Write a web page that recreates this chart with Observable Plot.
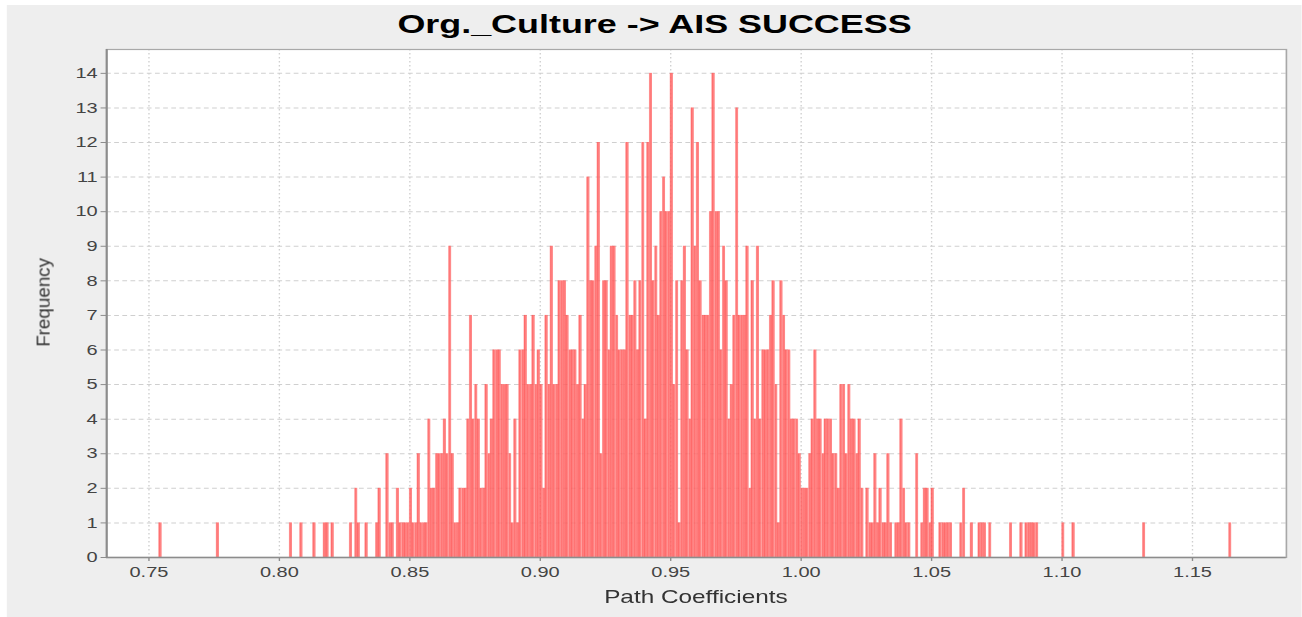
<!DOCTYPE html>
<html><head><meta charset="utf-8">
<script src="https://cdn.jsdelivr.net/npm/d3@7"></script>
<script src="https://cdn.jsdelivr.net/npm/@observablehq/plot@0.6"></script>
<style>
html,body{margin:0;padding:0;background:#fff;}
#stage{position:absolute;left:0;top:0;width:1302px;height:617px;overflow:hidden;background:#fff}
#wrap{position:absolute;left:0;top:0;width:957.35px;height:617px;transform:scaleX(1.36);transform-origin:0 0;}
#bg{position:absolute;left:5.15px;top:5px;right:0;bottom:0;background:#eeeeee}
#title{position:absolute;left:5.15px;right:0;top:11px;text-align:center;font-family:"Liberation Sans",Arial,sans-serif;font-weight:bold;font-size:26.4px;line-height:26.4px;color:#000;white-space:nowrap}
#xlabel{position:absolute;left:0;width:1023.4px;top:589px;text-align:center;font-family:"Liberation Sans",Arial,sans-serif;font-size:17.9px;line-height:17.9px;color:#333;white-space:nowrap}
#chart{position:absolute;left:0;top:0}
#ylabel{position:absolute;left:-56px;width:200px;top:292.6px;text-align:center;font-family:"Liberation Sans",Arial,sans-serif;font-size:18.8px;line-height:18.8px;color:#333;transform:rotate(-90deg);transform-origin:50% 50%;white-space:nowrap}
</style>
</head><body>
<div id="stage">
  <div id="wrap">
    <div id="bg"></div>
    <div id="chart"></div>
    <div id="title"></div>
    <div id="xlabel"></div>
  </div>
  <div id="ylabel"></div>
</div>
<script>
// ---- data ----
const titleText = "Org._Culture -> AIS SUCCESS";
const xLabel = "Path Coefficients";
const yLabel = "Frequency";
const binStart = 0.754;
const binWidth = 0.001;
const counts = [
1,0,0,0,0,0,0,0,0,0, 0,0,0,0,0,0,0,0,0,0,
0,0,1,0,0,0,0,0,0,0, 0,0,0,0,0,0,0,0,0,0,
0,0,0,0,0,0,0,0,0,0, 1,0,0,0,1,0,0,0,0,1,
0,0,0,1,1,0,1,0,0,0, 0,0,0,1,0,2,1,0,0,1,
0,0,0,1,2,0,0,3,1,1, 0,2,1,1,1,1,2,1,1,3,
1,1,1,4,2,2,3,3,3,4, 3,9,3,1,1,2,2,2,4,7,
4,5,4,2,2,5,3,4,6,6, 6,5,5,5,3,1,4,1,6,6,
7,5,5,7,5,6,5,2,7,5, 9,5,5,8,8,8,7,6,6,6,
5,7,4,5,11,8,8,9,12,3, 8,8,6,9,9,7,6,6,6,12,
7,7,8,6,8,12,4,12,14,8, 9,7,10,11,10,10,14,5,8,1,
8,9,6,4,13,9,12,8,7,7, 7,10,14,10,10,6,9,8,4,5,
7,13,7,7,7,9,2,8,4,9, 4,6,6,6,7,8,5,1,8,7,
6,6,4,4,4,3,2,2,2,3, 4,6,4,4,3,4,4,4,3,3,
2,5,5,3,5,4,4,3,4,2, 0,2,1,1,3,1,2,1,1,3,
1,0,1,1,4,2,1,1,0,0, 3,0,1,2,2,1,2,0,0,1,
1,1,1,1,0,0,0,1,2,0, 0,1,0,0,1,1,1,0,1,0,
0,0,0,0,0,0,1,0,0,0, 1,0,1,1,1,1,1,0,0,0,
0,0,0,0,0,0,1,0,0,0, 1,0,0,0,0,0,0,0,0,0,
0,0,0,0,0,0,0,0,0,0, 0,0,0,0,0,0,0,1,0,0,
0,0,0,0,0,0,0,0,0,0, 0,0,0,0,0,0,0,0,0,0,
0,0,0,0,0,0,0,0,0,0, 1
];
const xTicks = [0.75,0.80,0.85,0.90,0.95,1.00,1.05,1.10,1.15];
const yTicks = [0,1,2,3,4,5,6,7,8,9,10,11,12,13,14];
const xDomain = [0.7338, 1.186];
const yDomain = [0, 14.69];

const bins = counts.map((c, i) => ({x0: binStart + i*binWidth, x1: binStart + (i+1)*binWidth, count: c})).filter(d => d.count > 0);

const font = "Liberation Sans, Arial, sans-serif";
const chart = Plot.plot({
  width: 957.35,
  height: 617,
  marginLeft: 77.94,
  marginRight: 11.95,
  marginTop: 49,
  marginBottom: 60,
  style: {background: "transparent", fontFamily: font, overflow: "visible"},
  x: {domain: xDomain},
  y: {domain: yDomain},
  marks: [
    Plot.frame({fill: "#ffffff", stroke: "none"}),
    Plot.gridX(xTicks, {stroke: "#cfcfcf", strokeOpacity: 1, strokeDasharray: "1.5,2.5"}),
    Plot.gridY(yTicks, {stroke: "#cfcfcf", strokeOpacity: 1, strokeDasharray: "3.5,2.5"}),
    Plot.rectY(bins, {x1: "x0", x2: "x1", y: "count", fill: "url(#barGrad)", fillOpacity: 0.85, insetLeft: -0.15, insetRight: -0.15}),
    Plot.frame({stroke: "#a8a8a8", strokeWidth: 1.2}),
    Plot.ruleY([0], {stroke: "#8c8c8c", strokeWidth: 1.5}),
    Plot.ruleX([xDomain[0]], {stroke: "#8c8c8c", strokeWidth: 1.5}),
    Plot.axisX(xTicks, {tickSize: 4, tickPadding: 5, tickFormat: d3.format(".2f"), fontSize: 14.7, fill: "#444", stroke: "#8c8c8c", label: null}),
    Plot.axisY(yTicks, {tickSize: 4, tickPadding: 2.6, tickFormat: d3.format("d"), fontSize: 14.7, fill: "#444", stroke: "#8c8c8c", label: null})
  ]
});

const defs = document.createElementNS("http://www.w3.org/2000/svg", "defs");
defs.innerHTML = '<linearGradient id="barGrad" x1="0" x2="1" y1="0" y2="0">' +
  '<stop offset="0" stop-color="#ff5050"/><stop offset="0.12" stop-color="#ff9a9a"/>' +
  '<stop offset="0.25" stop-color="#ff5252"/><stop offset="0.8" stop-color="#ff7676"/>' +
  '<stop offset="1" stop-color="#ff5050"/></linearGradient>';
chart.prepend(defs);
document.getElementById("chart").appendChild(chart);
document.getElementById("title").textContent = titleText;
document.getElementById("xlabel").textContent = xLabel;
document.getElementById("ylabel").textContent = yLabel;
</script>
</body></html>
